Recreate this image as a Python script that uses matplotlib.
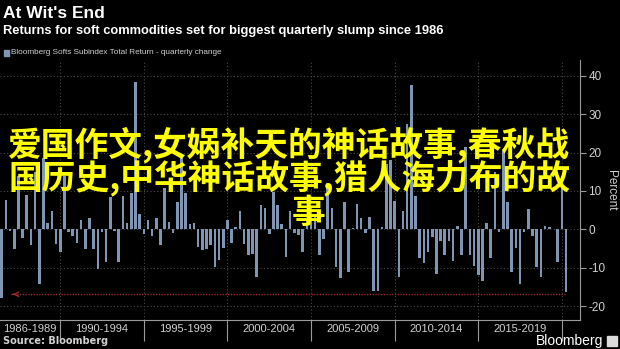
import matplotlib
matplotlib.use("Agg")
import matplotlib.pyplot as plt
from matplotlib.patches import Rectangle

# quarterly change of the Bloomberg Softs Subindex, 1986 Q2 .. 2020 Q1 (percent)
quarterly_change = [
    -18.0, 7.7, -0.3, -5.0, 14.0, -2.3, 9.0, -4.1, 15.0, -14.3,
    18.5, 1.6, 4.9, -3.7, -5.8, 14.0, -0.6, -1.7, -3.5, 2.4,
    -5.2, 2.9, -5.2, -10.2, -0.6, -8.4, 8.5, -0.3, -8.4, 8.7,
    1.6, 9.4, 38.4, 4.0, -1.2, 2.4, -1.7, 2.9, -4.1, 10.7,
    2.0, -1.0, 7.2, 18.5, 9.4, 1.4, 1.7, -4.5, -5.4, -5.0,
    -4.0, -9.7, -8.0, -4.9, 2.4, -3.5, 0.7, 4.8, -3.7, -6.8,
    -6.5, -12.4, 6.3, 5.5, -1.3, 9.6, 6.3, 1.4, -7.2, 4.8,
    -1.0, -1.5, -5.8, 3.0, 6.0, 4.0, -6.8, -2.5, 12.0, 5.5,
    -9.9, -12.6, 7.0, -11.0, 0.3, 6.5, 2.9, -1.0, 3.3, -16.0,
    -16.0, 0.5, 17.0, 18.0, 7.5, -12.4, 4.7, 27.5, 37.7, 8.7,
    -7.5, -8.8, -5.8, -2.1, -11.7, -3.1, -6.7, -3.0, -8.3, 1.0,
    -6.7, 21.4, -6.7, -9.5, -11.8, -13.5, 1.7, -7.4, 15.0, -0.8,
    20.7, 7.0, -11.0, -4.8, -14.1, -0.6, 5.4, -1.7, -9.9, -12.3,
    0.8, 0.5, 0.1, -8.4, 14.0, -16.2,
]
first_year, first_quarter = 1986, 2
period_labels = ["1986-1989", "1990-1994", "1995-1999", "2000-2004",
                 "2005-2009", "2010-2014", "2015-2019"]
latest_level = -16.9   # the dotted red reference line
y_ticks = [-20, -10, 0, 10, 20, 30, 40]

title = "At Wit's End"
subtitle = "Returns for soft commodities set for biggest quarterly slump since 1986"
legend_label = "Bloomberg Softs Subindex Total Return - quarterly change"
overlay_lines = ["爱国作文,女娲补天的神话故事,春秋战",
                 "国历史,中华神话故事,猎人海力布的故",
                 "事"]

BAR = "#8094b3"
GRID = "#4a4a4a"
TXT = "#d0d0d0"
SANS = ["Liberation Sans", "DejaVu Sans"]

W, H = 620, 349


def fx(px):
    return px / W


def fy(py):
    return 1 - py / H


# which bars are Q4 of 1989, 1994, ... -> separators between the periods
breaks = []
for i in range(len(quarterly_change)):
    q = (first_quarter - 1 + i) % 4 + 1
    year = first_year + (first_quarter - 1 + i) // 4
    if q == 4 and (year + 1) % 5 == 0:
        breaks.append(i)

fig = plt.figure(figsize=(W / 100, H / 100), dpi=100, facecolor="black")
ax = fig.add_axes([0, fy(320), fx(580), (320 - 60) / H], facecolor="black")

x = list(range(len(quarterly_change)))
ax.bar(x, quarterly_change, width=0.62, color=BAR, zorder=2)

x_left = -1.7 / 4.18
x_right = (580 - 1.7) / 4.18
ax.set_xlim(x_left, x_right)
ax.set_ylim(-23.6, 44.1)

# grid
for yv in y_ticks:
    ax.axhline(yv, color=GRID, lw=0.8, ls=(0, (1, 2)), zorder=1)
for b in breaks:
    ax.axvline(b, color=GRID, lw=0.8, ls=(0, (1, 2)), zorder=1)

# dotted red line with arrow
ax.plot([2.3, 135], [latest_level, latest_level], color="#9a2a2a",
        lw=1.0, ls=(0, (1, 1)), zorder=3)
ax.annotate("", xy=(2.0, latest_level), xytext=(3.5, latest_level),
            arrowprops=dict(arrowstyle="->", color="#9a2a2a", lw=1.0,
                            mutation_scale=8), zorder=3)

# axes styling
for side in ["left", "top"]:
    ax.spines[side].set_visible(False)
ax.spines["right"].set_color("#9a9a9a")
ax.spines["bottom"].set_color("#9a9a9a")
ax.yaxis.tick_right()
ax.set_yticks(y_ticks)
ax.set_yticklabels([str(v) for v in y_ticks], family=SANS)
ax.tick_params(axis="y", colors="#9a9a9a", labelcolor=TXT, labelsize=8.5,
               length=4, width=0.8, pad=2)
ax.set_xticks(breaks)
ax.set_xticklabels([])
ax.tick_params(axis="x", colors="#9a9a9a", length=15, width=0.8)
ax.set_ylabel("Percent", rotation=270, color=TXT, fontsize=8.5,
              family=SANS, labelpad=8)
ax.yaxis.set_label_position("right")

label_pos = [(x_left + breaks[0]) / 2] + [
    (breaks[k] + breaks[k + 1]) / 2 for k in range(len(breaks) - 1)]
for pos, lab in zip(label_pos, period_labels):
    ax.text(pos, -25.9, lab, ha="center", va="center", color=TXT,
            fontsize=8, family=SANS)

# header
fig.text(fx(3), fy(13), title, color="white", fontsize=12.5, weight="bold",
         family=SANS, va="center")
fig.text(fx(3), fy(31), subtitle, color="white", fontsize=9.3, weight="bold",
         family=SANS, va="center")
fig.patches.append(Rectangle((fx(4), fy(55.5)), fx(5), 6 / H, color=BAR,
                             transform=fig.transFigure, figure=fig))
fig.text(fx(11), fy(52.5), legend_label, color=TXT, fontsize=5.9,
         family=SANS, va="center")

# footer
fig.text(fx(3), fy(341.5), "Source: Bloomberg", color=TXT, fontsize=7,
         weight="bold", family="DejaVu Sans", va="center")
fig.text(fx(603), fy(341), "Bloomberg", color="white", fontsize=10,
         family=SANS, ha="right", va="center")
fig.patches.append(Rectangle((fx(607), fy(346)), fx(10), 10 / H,
                             color="#dddddd", transform=fig.transFigure,
                             figure=fig))

# overlay text
cjk = ["Noto Sans CJK SC", "DejaVu Sans"]
for (cx, cy), line in zip([(289, 145), (289, 178.5), (309, 212)], overlay_lines):
    fig.text(fx(cx), fy(cy), line, color="#ffff00", fontsize=24.3,
             family=cjk, ha="center", va="center", weight="bold")

fig.savefig("out.png", dpi=100, facecolor="black")
